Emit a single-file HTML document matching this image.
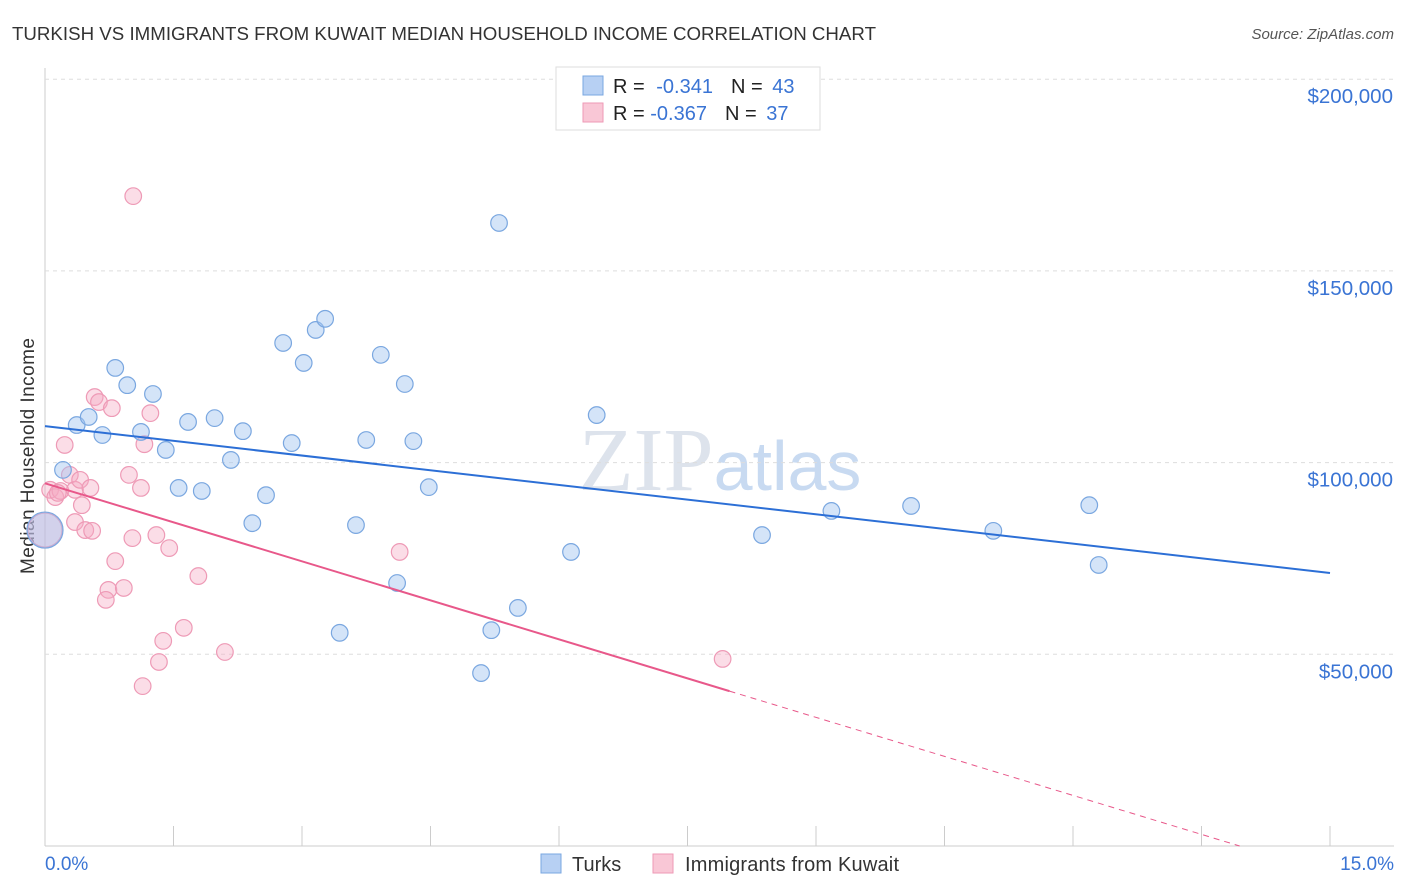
<!DOCTYPE html>
<html><head><meta charset="utf-8"><style>
body{margin:0;background:#fff;font-family:"Liberation Sans",sans-serif;}
svg{display:block}
</style></head><body>
<svg id="chart" width="1406" height="892" xmlns="http://www.w3.org/2000/svg" font-family="Liberation Sans, sans-serif">
<text x="12" y="40" font-size="18.7" fill="#333" textLength="864">TURKISH VS IMMIGRANTS FROM KUWAIT MEDIAN HOUSEHOLD INCOME CORRELATION CHART</text>
<text x="1394" y="39" font-size="15" fill="#555" text-anchor="end" font-style="italic">Source: ZipAtlas.com</text>
<text x="720" y="490" font-size="90" fill="#dde3ec" text-anchor="middle" font-family="Liberation Serif, serif">ZIP<tspan fill="#c8daf1" font-family="Liberation Sans, sans-serif" font-size="70">atlas</tspan></text>
<text transform="translate(34,456) rotate(-90)" font-size="19" fill="#333" text-anchor="middle" textLength="236">Median Household Income</text>
<g id="grid"></g><g id="marks"></g><g id="lines"></g>
<g>
<rect x="556" y="67" width="264" height="63" fill="#fff" stroke="#ddd"/>
<rect x="583" y="76" width="20" height="19" fill="#b7d0f3" stroke="#7aa7e0"/>
<rect x="583" y="103" width="20" height="19" fill="#f9c7d6" stroke="#ee9ab6"/>
<text x="613" y="93" font-size="20" fill="#222">R = <tspan fill="#3a74d4" dx="6">-0.341</tspan><tspan fill="#222" dx="18">N = </tspan><tspan fill="#3a74d4" dx="4">43</tspan></text>
<text x="613" y="120" font-size="20" fill="#222">R = <tspan fill="#3a74d4">-0.367</tspan><tspan fill="#222" dx="18">N = </tspan><tspan fill="#3a74d4" dx="4">37</tspan></text>
</g>
<g>
<rect x="541" y="854" width="20" height="19" fill="#b7d0f3" stroke="#7aa7e0"/>
<text x="572" y="871" font-size="20" fill="#333">Turks</text>
<rect x="653" y="854" width="20" height="19" fill="#f9c7d6" stroke="#ee9ab6"/>
<text x="685" y="871" font-size="20" fill="#333" textLength="214">Immigrants from Kuwait</text>
</g>
<text x="45" y="870" font-size="19" fill="#3a74d4">0.0%</text>
<text x="1394" y="870" font-size="19" fill="#3a74d4" text-anchor="end">15.0%</text>
</svg>
<script>
const yTicks=[50,100,150,200];
const yTickLabels=["$50,000","$100,000","$150,000","$200,000"];
const xTicks=[0,1.5,3,4.5,6,7.5,9,10.5,12,13.5,15];
const turksX=[0,0.21,0.37,0.51,0.67,0.82,0.96,1.12,1.26,1.41,1.56,1.67,1.83,1.98,2.17,2.31,2.42,2.58,2.78,2.88,3.02,3.16,3.27,3.44,3.63,3.75,3.92,4.11,4.20,4.30,4.48,5.09,5.21,5.30,5.52,6.14,6.44,8.37,9.18,10.11,11.07,12.19,12.30];
const turksY=[82.4,98.1,109.8,111.9,107.2,124.7,120.2,108.0,117.9,103.3,93.4,110.6,92.6,111.6,100.7,108.2,84.2,91.5,131.2,105.1,126.0,134.6,137.5,55.6,83.7,105.9,128.1,68.6,120.5,105.6,93.6,45.1,56.3,162.5,62.1,76.7,112.4,81.1,87.4,88.7,82.2,88.9,73.3];
const kuwX=[1.03,0,0.06,0.12,0.18,0.23,0.29,0.35,0.41,0.43,0.35,0.47,0.53,0.55,0.58,0.63,0.74,0.71,0.78,0.82,0.92,0.98,1.02,1.12,1.16,1.23,1.30,1.38,1.33,1.45,1.62,1.14,1.79,2.10,4.14,7.91,0.15];
const kuwY=[169.5,82.4,92.9,91.0,92.6,104.6,96.8,92.9,95.5,88.9,84.5,82.4,93.4,82.2,117.1,115.8,66.8,64.2,114.2,74.3,67.3,96.8,80.3,93.4,104.8,112.9,81.1,53.5,48.0,77.7,56.9,41.7,70.4,50.6,76.7,48.8,92.1];
const turksTrend=[109.5,71.2];
const kuwTrend=[94.6,40.4]; const kuwSolidEnd=7.99;
const NS="http://www.w3.org/2000/svg";
const sx=v=>45+v/15*1285, sy=v=>846-v/50*191.7;
function mk(t,a,p){const e=document.createElementNS(NS,t);for(const k in a)e.setAttribute(k,a[k]);p.appendChild(e);return e;}
const grid=document.getElementById('grid');
const gl=mk('line',{x1:45,y1:68,x2:45,y2:846,stroke:'#ccc'},grid);


const xl=mk('line',{x1:45,y1:846,x2:1394,y2:846,stroke:'#ccc'},grid);


yTicks.forEach((t,i)=>{const l=mk('line',{x1:45,x2:1394,y1:sy(t),y2:sy(t),stroke:'#ddd','stroke-dasharray':'4,4'},grid);


const tx=mk('text',{x:1393,y:sy(t)+24,'font-size':20.5,fill:'#3a74d4','text-anchor':'end'},grid);tx.textContent=yTickLabels[i];

});
xTicks.forEach(t=>{const l=mk('line',{x1:sx(t),x2:sx(t),y1:826,y2:846,stroke:'#ccc'},grid);

});
const marks=document.getElementById('marks');
kuwX.forEach((x,i)=>{const c=mk('circle',{cx:sx(x),cy:sy(kuwY[i]),r:i==1?17:8.3,fill:'rgba(245,170,195,0.4)',stroke:'#ee9ab6','stroke-width':1.2},marks);

});
turksX.forEach((x,i)=>{const c=mk('circle',{cx:sx(x),cy:sy(turksY[i]),r:i==0?18:8.3,fill:'rgba(160,195,240,0.45)',stroke:'#7aa7e0','stroke-width':1.2},marks);

});
const lines=document.getElementById('lines');
const bl=mk('line',{x1:sx(0),y1:sy(turksTrend[0]),x2:sx(15),y2:sy(turksTrend[1]),stroke:'#2c6fd6','stroke-width':2},lines);


const slope=(kuwTrend[1]-kuwTrend[0])/kuwSolidEnd;
const pl=mk('line',{x1:sx(0),y1:sy(kuwTrend[0]),x2:sx(kuwSolidEnd),y2:sy(kuwTrend[1]),stroke:'#e8588a','stroke-width':2},lines);


const xz=-kuwTrend[0]/slope;
const pd=mk('line',{x1:sx(kuwSolidEnd),y1:sy(kuwTrend[1]),x2:sx(xz),y2:sy(0),stroke:'#e8588a','stroke-width':1,'stroke-dasharray':'6,5'},lines);


</script>
</body></html>
